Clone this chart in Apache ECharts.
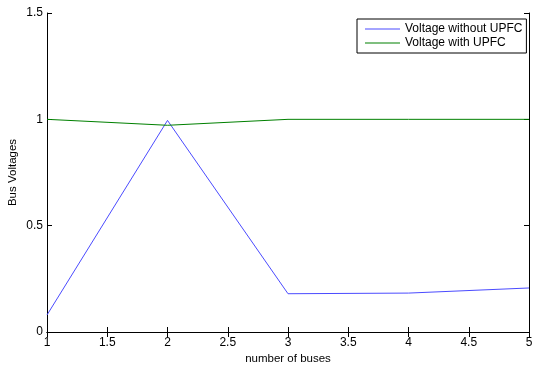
<!DOCTYPE html>
<html><head><meta charset="utf-8">
<script src="https://cdn.jsdelivr.net/npm/echarts@6/dist/echarts.min.js"></script>
<style>html,body{margin:0;padding:0;background:#fff}#c{width:533px;height:367px}</style>
</head><body><div id="c"></div>
<script>
const buses = [1, 2, 3, 4, 5];
const withoutUPFC = [0.08, 0.995, 0.18, 0.183, 0.207];
const withUPFC = [1.0, 0.972, 1.0, 1.0, 1.0];
const seriesNames = ['Voltage without UPFC', 'Voltage with UPFC'];
const xTitle = 'number of buses';
const yTitle = 'Bus Voltages';

const font = 'Liberation Sans, Arial, sans-serif';
const chart = echarts.init(document.getElementById('c'));
const axLine = {show: true, lineStyle: {color: '#000', width: 1}};
const tick = {show: true, inside: true, length: 5, lineStyle: {color: '#000'}};
chart.setOption({
  animation: false,
  backgroundColor: '#fff',
  grid: {left: 47, right: 4, top: 13, bottom: 35, containLabel: false, outerBoundsMode: 'none'},
  legend: {
    orient: 'vertical', left: 357, top: 19,
    borderColor: '#000', borderWidth: 1, padding: [4, 4, 4, 8],
    itemGap: 2, itemWidth: 35, itemHeight: 12,
    icon: 'path://M0,5 L35,5 L35,6 L0,6 Z',
    textStyle: {fontFamily: font, fontSize: 12, color: '#000'},
    data: seriesNames
  },
  xAxis: [{
    type: 'value', min: 1, max: 5, interval: 0.5,
    name: xTitle, nameLocation: 'middle', nameGap: 21, nameMoveOverlap: false,
    nameTextStyle: {fontFamily: font, fontSize: 11.5, color: '#000'},
    axisLine: axLine, axisTick: tick, splitLine: {show: false},
    axisLabel: {fontFamily: font, fontSize: 12, color: '#000', margin: 5}
  }, {
    type: 'value', min: 1, max: 5, interval: 0.5, position: 'top',
    axisLine: axLine, axisTick: tick, splitLine: {show: false}, axisLabel: {show: false}
  }],
  yAxis: [{
    type: 'value', min: 0, max: 1.5, interval: 0.5,
    name: yTitle, nameLocation: 'middle', nameGap: 28, nameMoveOverlap: false,
    nameTextStyle: {fontFamily: font, fontSize: 11.5, color: '#000'},
    axisLine: axLine, axisTick: tick, splitLine: {show: false},
    axisLabel: {fontFamily: font, fontSize: 12, color: '#000', margin: 4}
  }, {
    type: 'value', min: 0, max: 1.5, interval: 0.5, position: 'right',
    axisLine: axLine, axisTick: tick, splitLine: {show: false}, axisLabel: {show: false}
  }],
  series: [{
    name: seriesNames[0], type: 'line', symbol: 'none',
    data: buses.map((b, i) => [b, withoutUPFC[i]]),
    lineStyle: {color: '#4b4bff', width: 1}, itemStyle: {color: '#4b4bff'}
  }, {
    name: seriesNames[1], type: 'line', symbol: 'none',
    data: buses.map((b, i) => [b, withUPFC[i]]),
    lineStyle: {color: '#008000', width: 1}, itemStyle: {color: '#008000'}
  }]
});
</script></body></html>
